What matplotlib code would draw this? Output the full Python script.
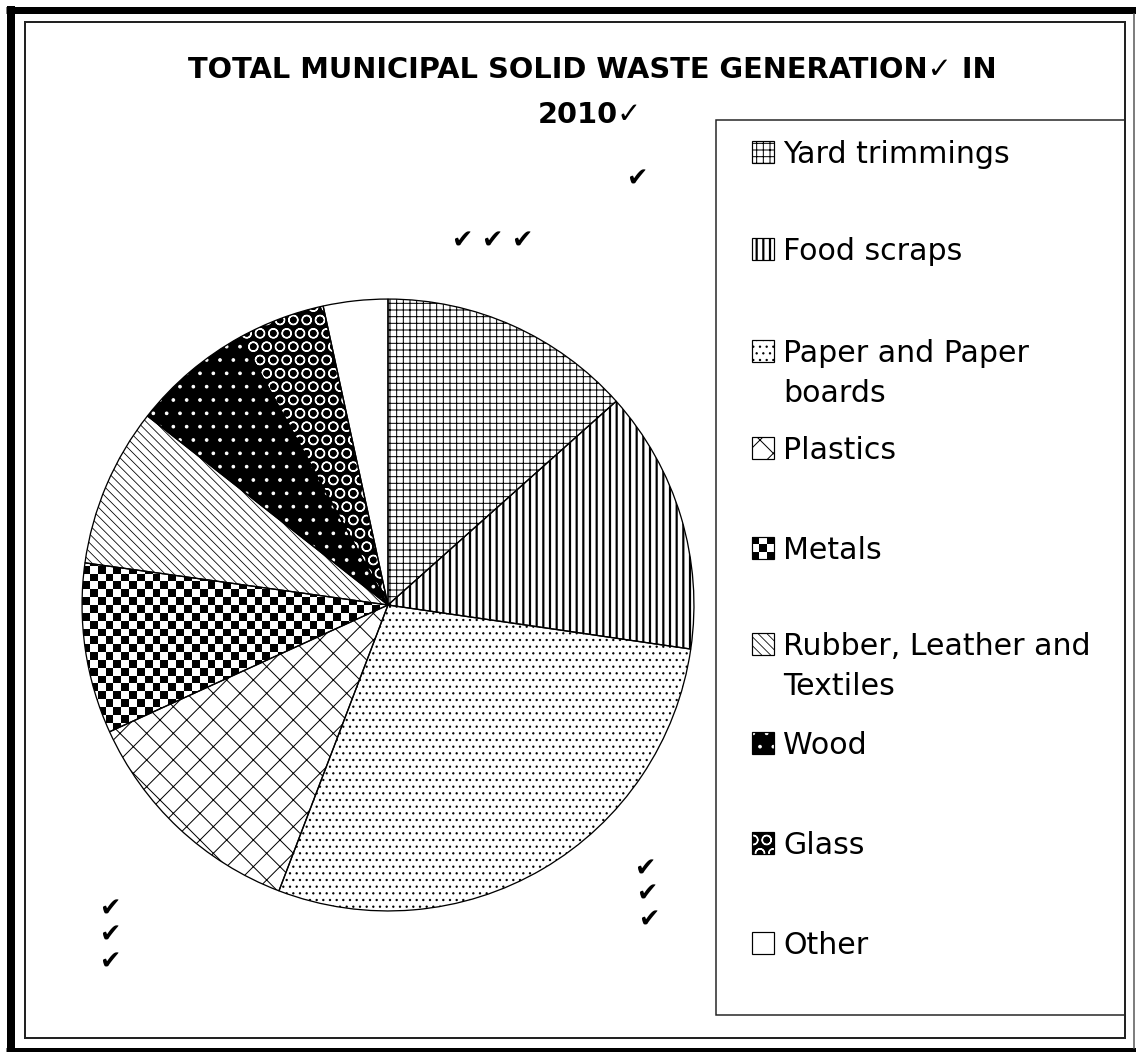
import numpy as np
import matplotlib.pyplot as plt
from matplotlib.patches import Rectangle

# Data (US MSW generation 2010, percent of total)
categories = ['Yard trimmings', 'Food scraps', 'Paper and Paper\nboards', 'Plastics', 'Metals',
              'Rubber, Leather and\nTextiles', 'Wood', 'Glass', 'Other']
shares = [13.4, 13.9, 28.5, 12.4, 9.0, 8.4, 6.4, 4.6, 3.4]

title_line1 = 'TOTAL MUNICIPAL SOLID WASTE GENERATION\u2713 IN'
title_line2 = '2010\u2713'

# fill style per slice: face colour, hatch colour, hatch ('checker' = drawn image)
faces = ['white', 'white', 'white', 'white', 'white', 'white', 'black', 'black', 'white']
hatch_colors = ['black', 'black', 'black', 'black', 'black', 'black', 'white', 'white', 'black']
hatches = ['++', '||', '..', 'x', 'checker', '\\\\\\', '.', 'O', '']
hatch_widths = [1.0, 2.2, 1.0, 1.0, 1.0, 0.8, 1.0, 1.3, 1.0]

W, H, DPI = 1136, 1052, 80
PX = 72.0 / DPI  # points per pixel

plt.rcParams['hatch.linewidth'] = 1.0
plt.rcParams['font.family'] = ['DejaVu Sans']

fig = plt.figure(figsize=(W / DPI, H / DPI), dpi=DPI)
fig.patch.set_facecolor('white')

# background axes in pixel coordinates (frames, legend, text)
bg = fig.add_axes([0, 0, 1, 1], zorder=0)
bg.set_xlim(0, W)
bg.set_ylim(H, 0)
bg.axis('off')


def checker(n):
    i, j = np.indices((n, n))
    return (i + j) % 2


def style_patch(p, fc, hc, h, hw):
    p.set_facecolor(fc)
    p.set_edgecolor(hc)
    p.set_hatch(h)
    if hasattr(p, 'set_hatch_linewidth'):
        p.set_hatch_linewidth(hw * PX)


# outer thick border
bg.plot([10.5, 10.5], [6, H], color='black', lw=8 * PX, solid_capstyle='butt')
bg.plot([6, W], [9.5, 9.5], color='black', lw=7 * PX, solid_capstyle='butt')
bg.plot([6, W], [1050, 1050], color='black', lw=5 * PX, solid_capstyle='butt')
bg.plot([1134, 1134], [14, 1048], color='#555555', lw=1.5 * PX)
# inner frame
bg.add_patch(Rectangle((25, 22), 1100, 1016, fill=False, edgecolor='#222222', lw=2 * PX))
# legend box
bg.add_patch(Rectangle((716, 120), 409, 895, fill=False, edgecolor='#222222', lw=1.5 * PX))

# title
title_kw = dict(ha='center', va='baseline', fontsize=26, fontweight='bold', color='black')
bg.text(592, 78, title_line1, **title_kw)
bg.text(590, 123, title_line2, **title_kw)

# pie
cx, cy, r = 388, 605, 309
ax = fig.add_axes([(cx - r) / W, (H - cy - r) / H, 2 * r / W, 2 * r / H], zorder=1)
ax.patch.set_visible(False)
wedges, _ = ax.pie(shares, startangle=90, counterclock=False, radius=1,
                   wedgeprops=dict(linewidth=0))
for w, fc, hc, h, hw in zip(wedges, faces, hatch_colors, hatches, hatch_widths):
    if h == 'checker':
        style_patch(w, 'white', 'white', '', hw)
        im = ax.imshow(checker(78), cmap='gray', extent=(-1, 1, -1, 1),
                       interpolation='nearest', aspect='auto', zorder=1.5)
        im.set_clip_path(w)
    else:
        style_patch(w, fc, hc, h, hw)
outline, _ = ax.pie(shares, startangle=90, counterclock=False, radius=1,
                    wedgeprops=dict(fill=False, edgecolor='black', linewidth=1.3 * PX))
for w in outline:
    w.set_zorder(3)
ax.set_xlim(-1.01, 1.01)
ax.set_ylim(-1.01, 1.01)
ax.axis('off')

# legend (entries at fixed pitch, marker aligned with first text line)
cap_tops = [141, 238, 340, 437, 537, 633, 732, 832, 932]
for lab, fc, hc, h, hw, top in zip(categories, faces, hatch_colors, hatches, hatch_widths, cap_tops):
    x0, s = 752, 22
    if h == 'checker':
        bg.imshow(checker(3), cmap='gray', extent=(x0, x0 + s, top + s, top),
                  interpolation='nearest', aspect='auto', zorder=2)
    else:
        box = Rectangle((x0, top), s, s, lw=0, zorder=2)
        style_patch(box, fc, hc, h, hw)
        bg.add_patch(box)
    bg.add_patch(Rectangle((x0, top), s, s, fill=False, edgecolor='black', lw=1.2 * PX, zorder=3))
    for k, line in enumerate(lab.split('\n')):
        bg.text(783, top + 22 + 40 * k, line, ha='left', va='baseline', fontsize=27,
                color='black')
bg.set_xlim(0, W)
bg.set_ylim(H, 0)

# stray check marks
check_xy = [(637, 180), (462, 242), (492, 242), (522, 242),
            (645, 870), (647, 895), (649, 921),
            (110, 910), (110, 936), (110, 963)]
for x, y in check_xy:
    bg.text(x, y, '\u2714', ha='center', va='center', fontsize=23, color='black')

fig.savefig('out.png', dpi=DPI)
